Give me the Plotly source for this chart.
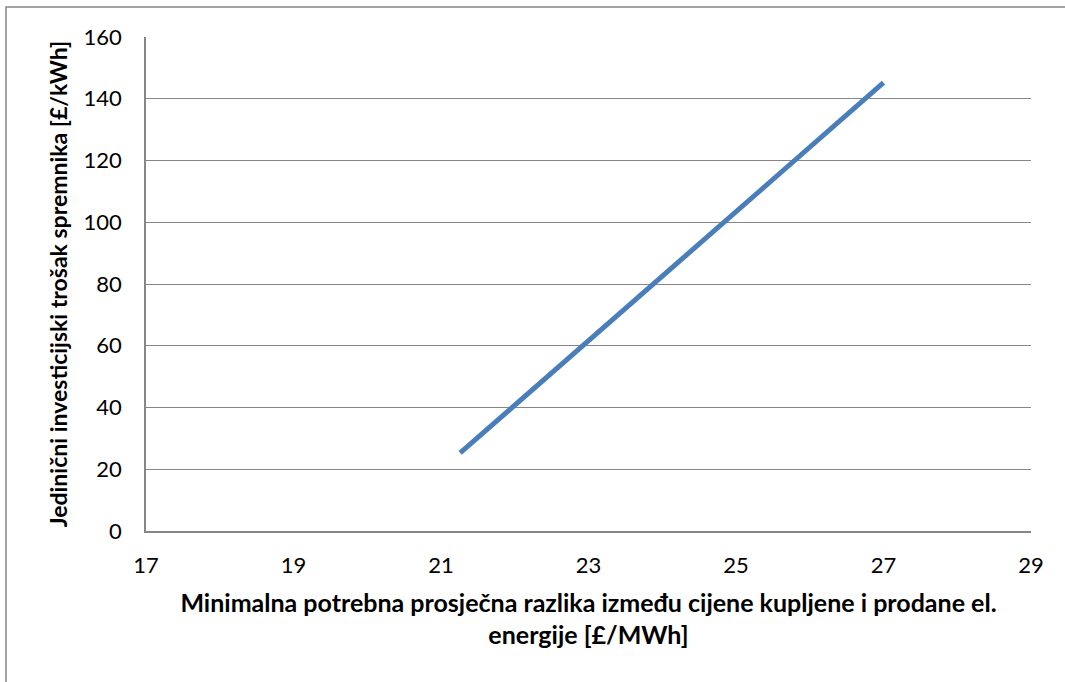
import plotly.graph_objects as go

# Data
x_vals = [21.26, 27.0]
y_vals = [25.3, 145.2]
x_ticks = [17, 19, 21, 23, 25, 27, 29]
y_ticks = [0, 20, 40, 60, 80, 100, 120, 140, 160]

x_title = "Minimalna potrebna prosječna razlika između cijene kupljene i prodane el.<br>energije [£/MWh]"
y_title = "Jedinični investicijski trošak spremnika [£/kWh]"

W, H = 1065, 682
L, R, T, B = 146, 1031, 37, 531
pw, ph = R - L, B - T

fig = go.Figure()
fig.add_trace(go.Scatter(
    x=x_vals, y=y_vals, mode="lines",
    line=dict(color="#4A7EBB", width=5),
    showlegend=False,
))

font_family = "Lato, 'Open Sans', sans-serif"

fig.update_layout(
    width=W, height=H,
    margin=dict(l=L, r=W - R, t=T, b=H - B, pad=0),
    paper_bgcolor="white", plot_bgcolor="white",
    font=dict(family=font_family, size=22, color="black"),
    xaxis=dict(
        range=[17, 29], tickvals=x_ticks, ticktext=[str(v) for v in x_ticks],
        showgrid=False, zeroline=False,
        showline=True, linecolor="#868686", linewidth=1.5,
        ticks="", ticklen=0, tickfont=dict(size=22),
        ticklabelstandoff=14,
        title=dict(text=x_title, font=dict(size=25, family=font_family, weight="bold"), standoff=17),
    ),
    yaxis=dict(
        range=[0, 160], tickvals=y_ticks,
        showgrid=True, gridcolor="#868686", gridwidth=1.2, zeroline=False,
        showline=True, linecolor="#868686", linewidth=1.5,
        ticks="", ticklen=0, tickfont=dict(size=22),
        ticklabelstandoff=18,
        title=dict(text=y_title, font=dict(size=23, family=font_family, weight="bold"), standoff=10),
    ),
    shapes=[dict(
        type="rect", xref="paper", yref="paper",
        x0=(6 - L) / pw, x1=(1075 - L) / pw,
        y0=(B - 695) / ph, y1=(B - 7) / ph,
        line=dict(color="#868686", width=1.5), fillcolor="rgba(0,0,0,0)", layer="below",
    )],
)

fig.write_html(
    "out.html",
    config={"displayModeBar": False},
    post_script="document.body.style.margin='0';document.body.style.overflow='hidden';",
)
